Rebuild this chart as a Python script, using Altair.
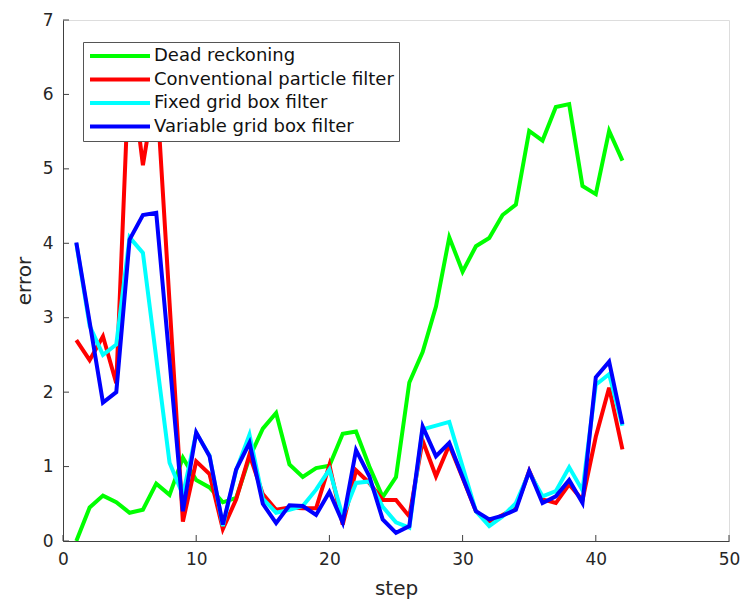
import altair as alt
import pandas as pd

steps = list(range(1, 43))

dead_reckoning = [0.0, 0.45, 0.61, 0.52, 0.38, 0.42, 0.77, 0.62, 1.12, 0.82,
                  0.72, 0.52, 0.58, 1.12, 1.51, 1.72, 1.03, 0.86, 0.98, 1.01,
                  1.44, 1.47, 1.0, 0.59, 0.86, 2.13, 2.54, 3.15, 4.08, 3.62,
                  3.96, 4.07, 4.38, 4.52, 5.51, 5.38, 5.83, 5.87, 4.77, 4.66,
                  5.51, 5.11]
conventional_pf = [2.7, 2.43, 2.75, 2.12, 6.5, 5.05, 6.15, 3.2, 0.26, 1.07,
                   0.9, 0.16, 0.56, 1.16, 0.63, 0.42, 0.45, 0.44, 0.44, 1.02,
                   0.22, 0.95, 0.78, 0.55, 0.55, 0.33, 1.35, 0.87, 1.29, 0.85,
                   0.4, 0.25, 0.35, 0.45, 0.94, 0.56, 0.51, 0.76, 0.55, 1.4,
                   2.06, 1.23]
fixed_grid = [4.0, 2.89, 2.5, 2.64, 4.08, 3.87, 2.46, 1.05, 0.62, 1.45,
              1.15, 0.2, 0.95, 1.43, 0.57, 0.38, 0.42, 0.47, 0.69, 0.96,
              0.33, 0.78, 0.8, 0.46, 0.25, 0.18, 1.5, 1.55, 1.6, 1.0,
              0.4, 0.2, 0.33, 0.51, 0.92, 0.6, 0.67, 0.99, 0.68, 2.1,
              2.24, 1.55]
variable_grid = [4.01, 2.94, 1.86, 2.0, 4.05, 4.38, 4.41, 2.42, 0.4, 1.46,
                 1.14, 0.22, 0.96, 1.32, 0.5, 0.24, 0.48, 0.47, 0.35, 0.66,
                 0.25, 1.22, 0.87, 0.29, 0.11, 0.2, 1.54, 1.14, 1.32, 0.86,
                 0.4, 0.29, 0.34, 0.42, 0.94, 0.51, 0.6, 0.82, 0.51, 2.2,
                 2.41, 1.57]

series_names = ["Dead reckoning", "Conventional particle filter",
                "Fixed grid box filter", "Variable grid box filter"]
series_colors = ["#00ff00", "#ff0000", "#00ffff", "#0000ff"]
x_ticks = [0, 10, 20, 30, 40, 50]
y_ticks = [0, 1, 2, 3, 4, 5, 6, 7]

rows = []
for k, (name, vals) in enumerate(zip(series_names,
                                     [dead_reckoning, conventional_pf, fixed_grid, variable_grid])):
    for s, v in zip(steps, vals):
        rows.append({"step": s, "error": v, "series": name, "ord": k})
df = pd.DataFrame(rows)

W, H = 666, 521
AX = "#404040"
FONT = "DejaVu Sans"

xscale = alt.Scale(domain=[0, 50], nice=False, zero=False)
yscale = alt.Scale(domain=[0, 7], nice=False, zero=False)

xaxis = alt.Axis(values=x_ticks, ticks=False, grid=False, domainColor=AX,
                 labelColor="#262626", labelFont=FONT, labelFontSize=17,
                 labelPadding=10, title="step", titleFont=FONT, titleFontSize=20,
                 titleFontWeight="normal", titleColor="#262626", titlePadding=11,
                 labelFlush=False)
yaxis = alt.Axis(values=y_ticks, ticks=False, grid=False, domainColor=AX,
                 labelColor="#262626", labelFont=FONT, labelFontSize=17,
                 labelPadding=10, title="error", titleFont=FONT, titleFontSize=20,
                 titleFontWeight="normal", titleColor="#262626", titlePadding=8,
                 labelFlush=False)

lines = alt.Chart(df).mark_line(strokeWidth=4, clip=True).encode(
    x=alt.X("step:Q", scale=xscale, axis=xaxis),
    y=alt.Y("error:Q", scale=yscale, axis=yaxis),
    color=alt.Color("series:N",
                    scale=alt.Scale(domain=series_names, range=series_colors),
                    sort=series_names,
                    legend=alt.Legend(orient="none", legendX=20, legendY=22,
                                      title=None, symbolType="stroke",
                                      symbolSize=3600, symbolStrokeWidth=4,
                                      labelFont=FONT, labelFontSize=18,
                                      labelColor="#111111", labelOffset=2,
                                      fillColor="white", strokeColor="#555555",
                                      padding=5, rowPadding=5.5, clipHeight=18,
                                      labelLimit=400)),
    detail="ord:O",
    order="step:Q",
)

xt = pd.DataFrame({"step": x_ticks})
yt = pd.DataFrame({"error": y_ticks})
xtick_rules = alt.Chart(xt).mark_rule(color=AX, strokeWidth=1).encode(
    x=alt.X("step:Q", scale=xscale, axis=xaxis),
    y=alt.value(H), y2=alt.value(H - 6))
ytick_rules = alt.Chart(yt).mark_rule(color=AX, strokeWidth=1).encode(
    y=alt.Y("error:Q", scale=yscale, axis=yaxis),
    x=alt.value(0), x2=alt.value(6))

chart = alt.layer(lines, xtick_rules, ytick_rules).properties(
    width=W, height=H,
    padding={"left": 63, "top": 20, "right": 15, "bottom": 61},
    autosize="none",
).configure_view(stroke=None).configure(background="white")

chart.save("out.html", embed_options={"renderer": "svg", "actions": False})
